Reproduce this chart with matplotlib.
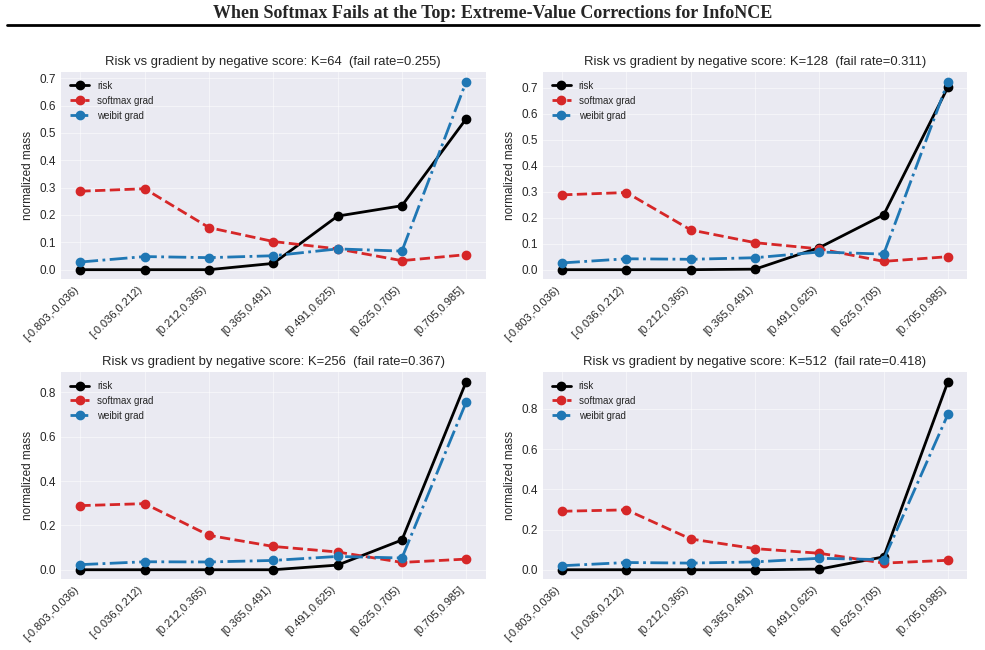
import matplotlib
matplotlib.use('Agg')
import matplotlib.pyplot as plt
import numpy as np

plt.style.use('seaborn-v0_8-darkgrid')
plt.rcParams['font.family'] = ['Liberation Sans', 'DejaVu Sans']

bins = ['[-0.803,-0.036)', '[-0.036,0.212)', '[0.212,0.365)', '[0.365,0.491)',
        '[0.491,0.625)', '[0.625,0.705)', '[0.705,0.985]']

k_values = [64, 128, 256, 512]
fail_rates = [0.255, 0.311, 0.367, 0.418]

risk = [
    [0.0, 0.0, 0.0, 0.023, 0.196, 0.234, 0.552],
    [0.0, 0.0, 0.0, 0.002, 0.085, 0.211, 0.703],
    [0.0, 0.0, 0.0, 0.0, 0.021, 0.134, 0.848],
    [0.0, 0.0, 0.0, 0.0, 0.003, 0.064, 0.936],
]
softmax_grad = [
    [0.287, 0.296, 0.154, 0.103, 0.076, 0.033, 0.055],
    [0.288, 0.297, 0.153, 0.104, 0.080, 0.032, 0.050],
    [0.289, 0.298, 0.155, 0.105, 0.080, 0.033, 0.048],
    [0.291, 0.298, 0.153, 0.105, 0.082, 0.033, 0.047],
]
weibit_grad = [
    [0.028, 0.048, 0.044, 0.051, 0.076, 0.068, 0.688],
    [0.026, 0.042, 0.040, 0.046, 0.068, 0.060, 0.724],
    [0.023, 0.036, 0.035, 0.042, 0.060, 0.053, 0.756],
    [0.020, 0.036, 0.033, 0.039, 0.057, 0.050, 0.774],
]

fig, axes = plt.subplots(2, 2, figsize=(9.85, 6.5), dpi=100)
fig.subplots_adjust(left=0.062, right=0.982, top=0.889, bottom=0.109,
                    hspace=0.45, wspace=0.135)

x = np.arange(len(bins))
for i, ax in enumerate(axes.flat):
    ax.plot(x, risk[i], '-o', color='black', lw=2, ms=6, label='risk')
    ax.plot(x, softmax_grad[i], '--o', color='#d62728', lw=2, ms=6, label='softmax grad')
    ax.plot(x, weibit_grad[i], '-.o', color='#1f77b4', lw=2, ms=6, label='weibit grad')
    ax.set_title(f'Risk vs gradient by negative score: K={k_values[i]}  (fail rate={fail_rates[i]:.3f})',
                 fontsize=9.4, pad=5, color='#262626')
    ax.set_ylabel('normalized mass', fontsize=8.5)
    ax.set_xticks(x)
    ax.set_xticklabels(bins, rotation=45, ha='right', fontsize=8)
    ax.tick_params(axis='y', labelsize=8.5)
    ax.grid(True, color='white', lw=0.8, alpha=0.5)
    ax.legend(loc='upper left', fontsize=7, frameon=False)

fig.text(0.5, 0.979, 'When Softmax Fails at the Top: Extreme-Value Corrections for InfoNCE',
         ha='center', va='center', fontsize=13, fontweight='bold', family='Liberation Serif')
fig.add_artist(plt.Line2D([0.007, 0.994], [0.962, 0.962], color='black', lw=2,
                          transform=fig.transFigure))

fig.savefig('out.png', dpi=100)
